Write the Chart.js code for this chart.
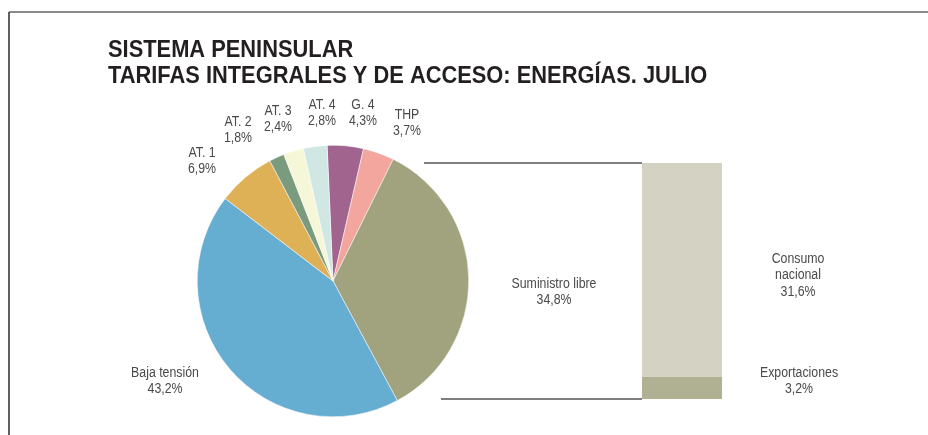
<!DOCTYPE html>
<html lang="es">
<head>
    <meta charset="UTF-8">
    <title>Sistema peninsular - Tarifas integrales y de acceso</title>
    <script src="https://cdn.jsdelivr.net/npm/chart.js"></script>
    <style>
        body {
            margin: 0;
            background: #ffffff;
        }
        #lienzo {
            position: relative;
            width: 928px;
            height: 435px;
        }
        #lienzo canvas {
            position: absolute;
            top: 0;
        }
    </style>
</head>
<body>
    <div id="lienzo">
        <canvas id="tarta" width="928" height="435" style="left:0"></canvas>
        <canvas id="barra" width="508" height="435" style="left:420px"></canvas>
    </div>

    <script>
        // Reparto de energías por tarifa (%), en orden horario desde arriba
        const tarifas = ['G. 4', 'THP', 'Suministro libre', 'Baja tensión', 'AT. 1', 'AT. 2', 'AT. 3', 'AT. 4'];
        const energias = [4.3, 3.7, 34.8, 43.2, 6.9, 1.8, 2.4, 2.8];
        const coloresTarifa = ['#a0648f', '#f3a69e', '#a1a27e', '#66add2', '#deb157', '#7b9b7e', '#f6f6d9', '#d0e7e4'];

        // Desglose del suministro libre (de abajo arriba)
        const destinos = ['Exportaciones', 'Consumo nacional'];
        const energiasLibre = [3.2, 31.6];
        const coloresDestino = ['#b0b192', '#d4d3c3'];

        const titulo = ['SISTEMA PENINSULAR', 'TARIFAS INTEGRALES Y DE ACCESO: ENERGÍAS. JULIO'];

        // posición de cada rótulo respecto al centro de la tarta
        const posRotulo = [[30, -168], [74, -158], [221, 11], [-168, 100], [-131, -120], [-95, -151], [-55, -162], [-11, -168]];

        const fmt = v => v.toFixed(1).replace('.', ',') + '%';

        // texto estrecho: la fuente se comprime en horizontal
        function escribe(ctx, lineas, x, y, opts) {
            const o = Object.assign({ size: 14, bold: false, squeeze: 0.88, align: 'center', color: '#4a4a4a', interlinea: 16.5 }, opts);
            ctx.save();
            ctx.font = (o.bold ? 'bold ' : '') + o.size + 'px "Liberation Sans", Arial, sans-serif';
            ctx.fillStyle = o.color;
            ctx.textAlign = o.align;
            ctx.textBaseline = 'middle';
            const y0 = y - (lineas.length - 1) * o.interlinea / 2;
            lineas.forEach((t, i) => {
                ctx.save();
                ctx.translate(x, y0 + i * o.interlinea);
                ctx.scale(o.squeeze, 1);
                ctx.fillText(t, 0, 0);
                ctx.restore();
            });
            ctx.restore();
        }

        const decoradoTarta = {
            id: 'decoradoTarta',
            afterDraw(chart) {
                const ctx = chart.ctx;

                // marco
                ctx.save();
                ctx.strokeStyle = '#8a8a8a';
                ctx.lineWidth = 2;
                ctx.beginPath();
                ctx.moveTo(9, 12);
                ctx.lineTo(928, 12);
                ctx.stroke();
                ctx.strokeStyle = '#2a2a2a';
                ctx.lineWidth = 1.5;
                ctx.beginPath();
                ctx.moveTo(9, 12);
                ctx.lineTo(9, 435);
                ctx.stroke();
                ctx.restore();

                const estiloTitulo = { size: 23, bold: true, squeeze: 0.95, align: 'left', color: '#231f20' };
                escribe(ctx, [titulo[0]], 108, 51, estiloTitulo);
                escribe(ctx, [titulo[1]], 108, 77, estiloTitulo);

                const arcos = chart.getDatasetMeta(0).data;
                arcos.forEach((arco, i) => {
                    const [dx, dy] = posRotulo[i];
                    const lineas = [tarifas[i], fmt(energias[i])];
                    escribe(ctx, lineas, arco.x + dx, arco.y + dy);
                });
            }
        };

        new Chart(document.getElementById('tarta'), {
            type: 'pie',
            data: {
                labels: tarifas,
                datasets: [{
                    data: energias,
                    backgroundColor: coloresTarifa,
                    borderColor: '#ffffff',
                    borderWidth: 0.5
                }]
            },
            options: {
                responsive: false,
                animation: false,
                rotation: -2.5,
                layout: { padding: { left: 197, right: 459, top: 145, bottom: 18 } },
                plugins: {
                    legend: { display: false },
                    tooltip: { enabled: false }
                }
            },
            plugins: [decoradoTarta]
        });

        const decoradoBarra = {
            id: 'decoradoBarra',
            afterDraw(chart) {
                const ctx = chart.ctx;
                const y = chart.scales.y;
                const area = chart.chartArea;
                const total = energiasLibre.reduce((a, b) => a + b, 0);

                // líneas que unen la porción libre con su desglose
                ctx.save();
                ctx.strokeStyle = '#555555';
                ctx.lineWidth = 1.5;
                ctx.beginPath();
                ctx.moveTo(4, y.getPixelForValue(total));
                ctx.lineTo(area.left, y.getPixelForValue(total));
                ctx.moveTo(21, y.getPixelForValue(0));
                ctx.lineTo(area.left, y.getPixelForValue(0));
                ctx.stroke();
                ctx.restore();

                const x = area.right + 76;
                const yCons = (y.getPixelForValue(energiasLibre[0]) + y.getPixelForValue(total)) / 2 + 5;
                escribe(ctx, ['Consumo', 'nacional', fmt(energiasLibre[1])], x, yCons);
                escribe(ctx, [destinos[0], fmt(energiasLibre[0])], x + 1, y.getPixelForValue(0) - 18);
            }
        };

        new Chart(document.getElementById('barra'), {
            type: 'bar',
            data: {
                labels: [''],
                datasets: destinos.map((d, i) => ({
                    label: d,
                    data: [energiasLibre[i]],
                    backgroundColor: coloresDestino[i],
                    borderWidth: 0,
                    barPercentage: 1,
                    categoryPercentage: 1
                }))
            },
            options: {
                responsive: false,
                animation: false,
                layout: { padding: { left: 222, right: 206, top: 163, bottom: 36 } },
                scales: {
                    x: { stacked: true, display: false },
                    y: { stacked: true, display: false, min: 0, max: energiasLibre.reduce((a, b) => a + b, 0) }
                },
                plugins: {
                    legend: { display: false },
                    tooltip: { enabled: false }
                }
            },
            plugins: [decoradoBarra]
        });
    </script>
</body>
</html>
